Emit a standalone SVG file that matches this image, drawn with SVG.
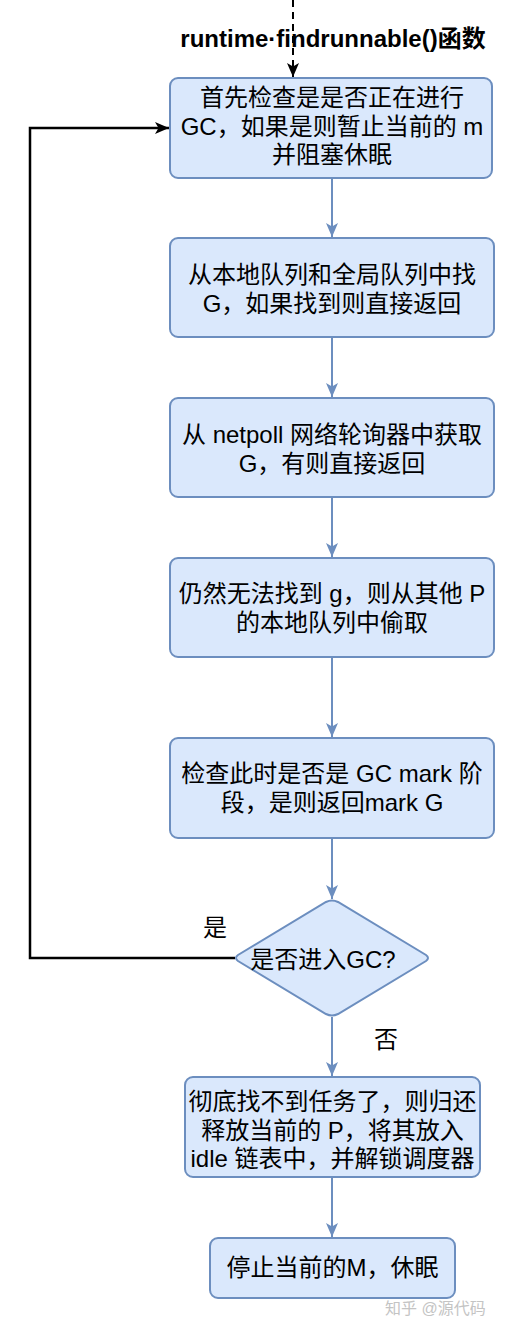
<svg xmlns="http://www.w3.org/2000/svg" width="526" height="1332" viewBox="0 0 526 1332">
<style>
.box{fill:#dae8fc;stroke:#6c8ebf;stroke-width:2}
.t{font-family:"Liberation Sans","Noto Sans CJK SC",sans-serif;font-size:24px;fill:#000;text-anchor:middle}
.b{font-weight:bold}
.c{fill:none;stroke:#6c8ebf;stroke-width:2}
.k{fill:none;stroke:#000;stroke-width:2.5}
.wm{font-family:"Liberation Sans","Noto Sans CJK SC",sans-serif;font-size:16px;fill:#c4c4c4}
</style>
<defs>
<marker id="ab" markerWidth="14" markerHeight="12" refX="14" refY="6" orient="auto" markerUnits="userSpaceOnUse">
<path d="M0,0 L14,6 L0,12 L3.5,6 Z" fill="#6c8ebf"/>
</marker>
<marker id="ak" markerWidth="14" markerHeight="12" refX="14" refY="6" orient="auto" markerUnits="userSpaceOnUse">
<path d="M0,0 L14,6 L0,12 L3.5,6 Z" fill="#000"/>
</marker>
</defs>
<rect width="526" height="1332" fill="#fff"/>
<g id="connectors">
<line x1="293" y1="0" x2="293" y2="77" stroke="#000" stroke-width="2" stroke-dasharray="7,5" marker-end="url(#ak)"/>
<line class="c" x1="332" y1="178" x2="332" y2="237" marker-end="url(#ab)"/>
<line class="c" x1="332" y1="337" x2="332" y2="397" marker-end="url(#ab)"/>
<line class="c" x1="332" y1="497" x2="332" y2="557" marker-end="url(#ab)"/>
<line class="c" x1="332" y1="657" x2="332" y2="737" marker-end="url(#ab)"/>
<line class="c" x1="332" y1="838" x2="332" y2="899" marker-end="url(#ab)"/>
<line class="c" x1="332" y1="1017" x2="332" y2="1076" marker-end="url(#ab)"/>
<line class="c" x1="332" y1="1177" x2="332" y2="1237" marker-end="url(#ab)"/>
<polyline class="k" points="235,958 30,958 30,128 169,128" marker-end="url(#ak)"/>
<text class="t" x="215" y="936">是</text>
<text class="t" x="386" y="1048">否</text>
</g>
<g id="title">
<text class="t b" x="333" y="47">runtime·findrunnable()函数</text>
</g>
<g id="n1">
<rect class="box" x="170" y="78" width="322" height="100" rx="8"/>
<text class="t" x="332" y="106">首先检查是是否正在进行</text>
<text class="t" x="332" y="134.5">GC，如果是则暂止当前的 m</text>
<text class="t" x="332" y="163">并阻塞休眠</text>
</g>
<g id="n2">
<rect class="box" x="170" y="238" width="324" height="99" rx="8"/>
<text class="t" x="332" y="283">从本地队列和全局队列中找</text>
<text class="t" x="332" y="311.5">G，如果找到则直接返回</text>
</g>
<g id="n3">
<rect class="box" x="170" y="398" width="324" height="99" rx="8"/>
<text class="t" x="332" y="443">从 netpoll 网络轮询器中获取</text>
<text class="t" x="332" y="471.5">G，有则直接返回</text>
</g>
<g id="n4">
<rect class="box" x="170" y="558" width="324" height="99" rx="8"/>
<text class="t" x="332" y="602">仍然无法找到 g，则从其他 P</text>
<text class="t" x="332" y="630.5">的本地队列中偷取</text>
</g>
<g id="n5">
<rect class="box" x="170" y="738" width="324" height="100" rx="8"/>
<text class="t" x="332" y="782">检查此时是否是 GC mark 阶</text>
<text class="t" x="332" y="810.5">段，是则返回mark G</text>
</g>
<g id="n6">
<path class="box" d="M326,902 Q332,899 338,902 L426,955 Q430,958 426,961 L338,1014 Q332,1017 326,1014 L238,961 Q234,958 238,955 Z"/>
<text class="t" x="323" y="968">是否进入GC?</text>
</g>
<g id="n7">
<rect class="box" x="185" y="1077" width="295" height="100" rx="8"/>
<text class="t" x="332.5" y="1110">彻底找不到任务了，则归还</text>
<text class="t" x="332.5" y="1138.5">释放当前的 P，将其放入</text>
<text class="t" x="332.5" y="1167">idle 链表中，并解锁调度器</text>
</g>
<g id="n8">
<rect class="box" x="210" y="1238" width="245" height="60" rx="8"/>
<text class="t" x="332.5" y="1276">停止当前的M，休眠</text>
</g>
<text class="wm" x="385" y="1314">知乎 @源代码</text>
</svg>
